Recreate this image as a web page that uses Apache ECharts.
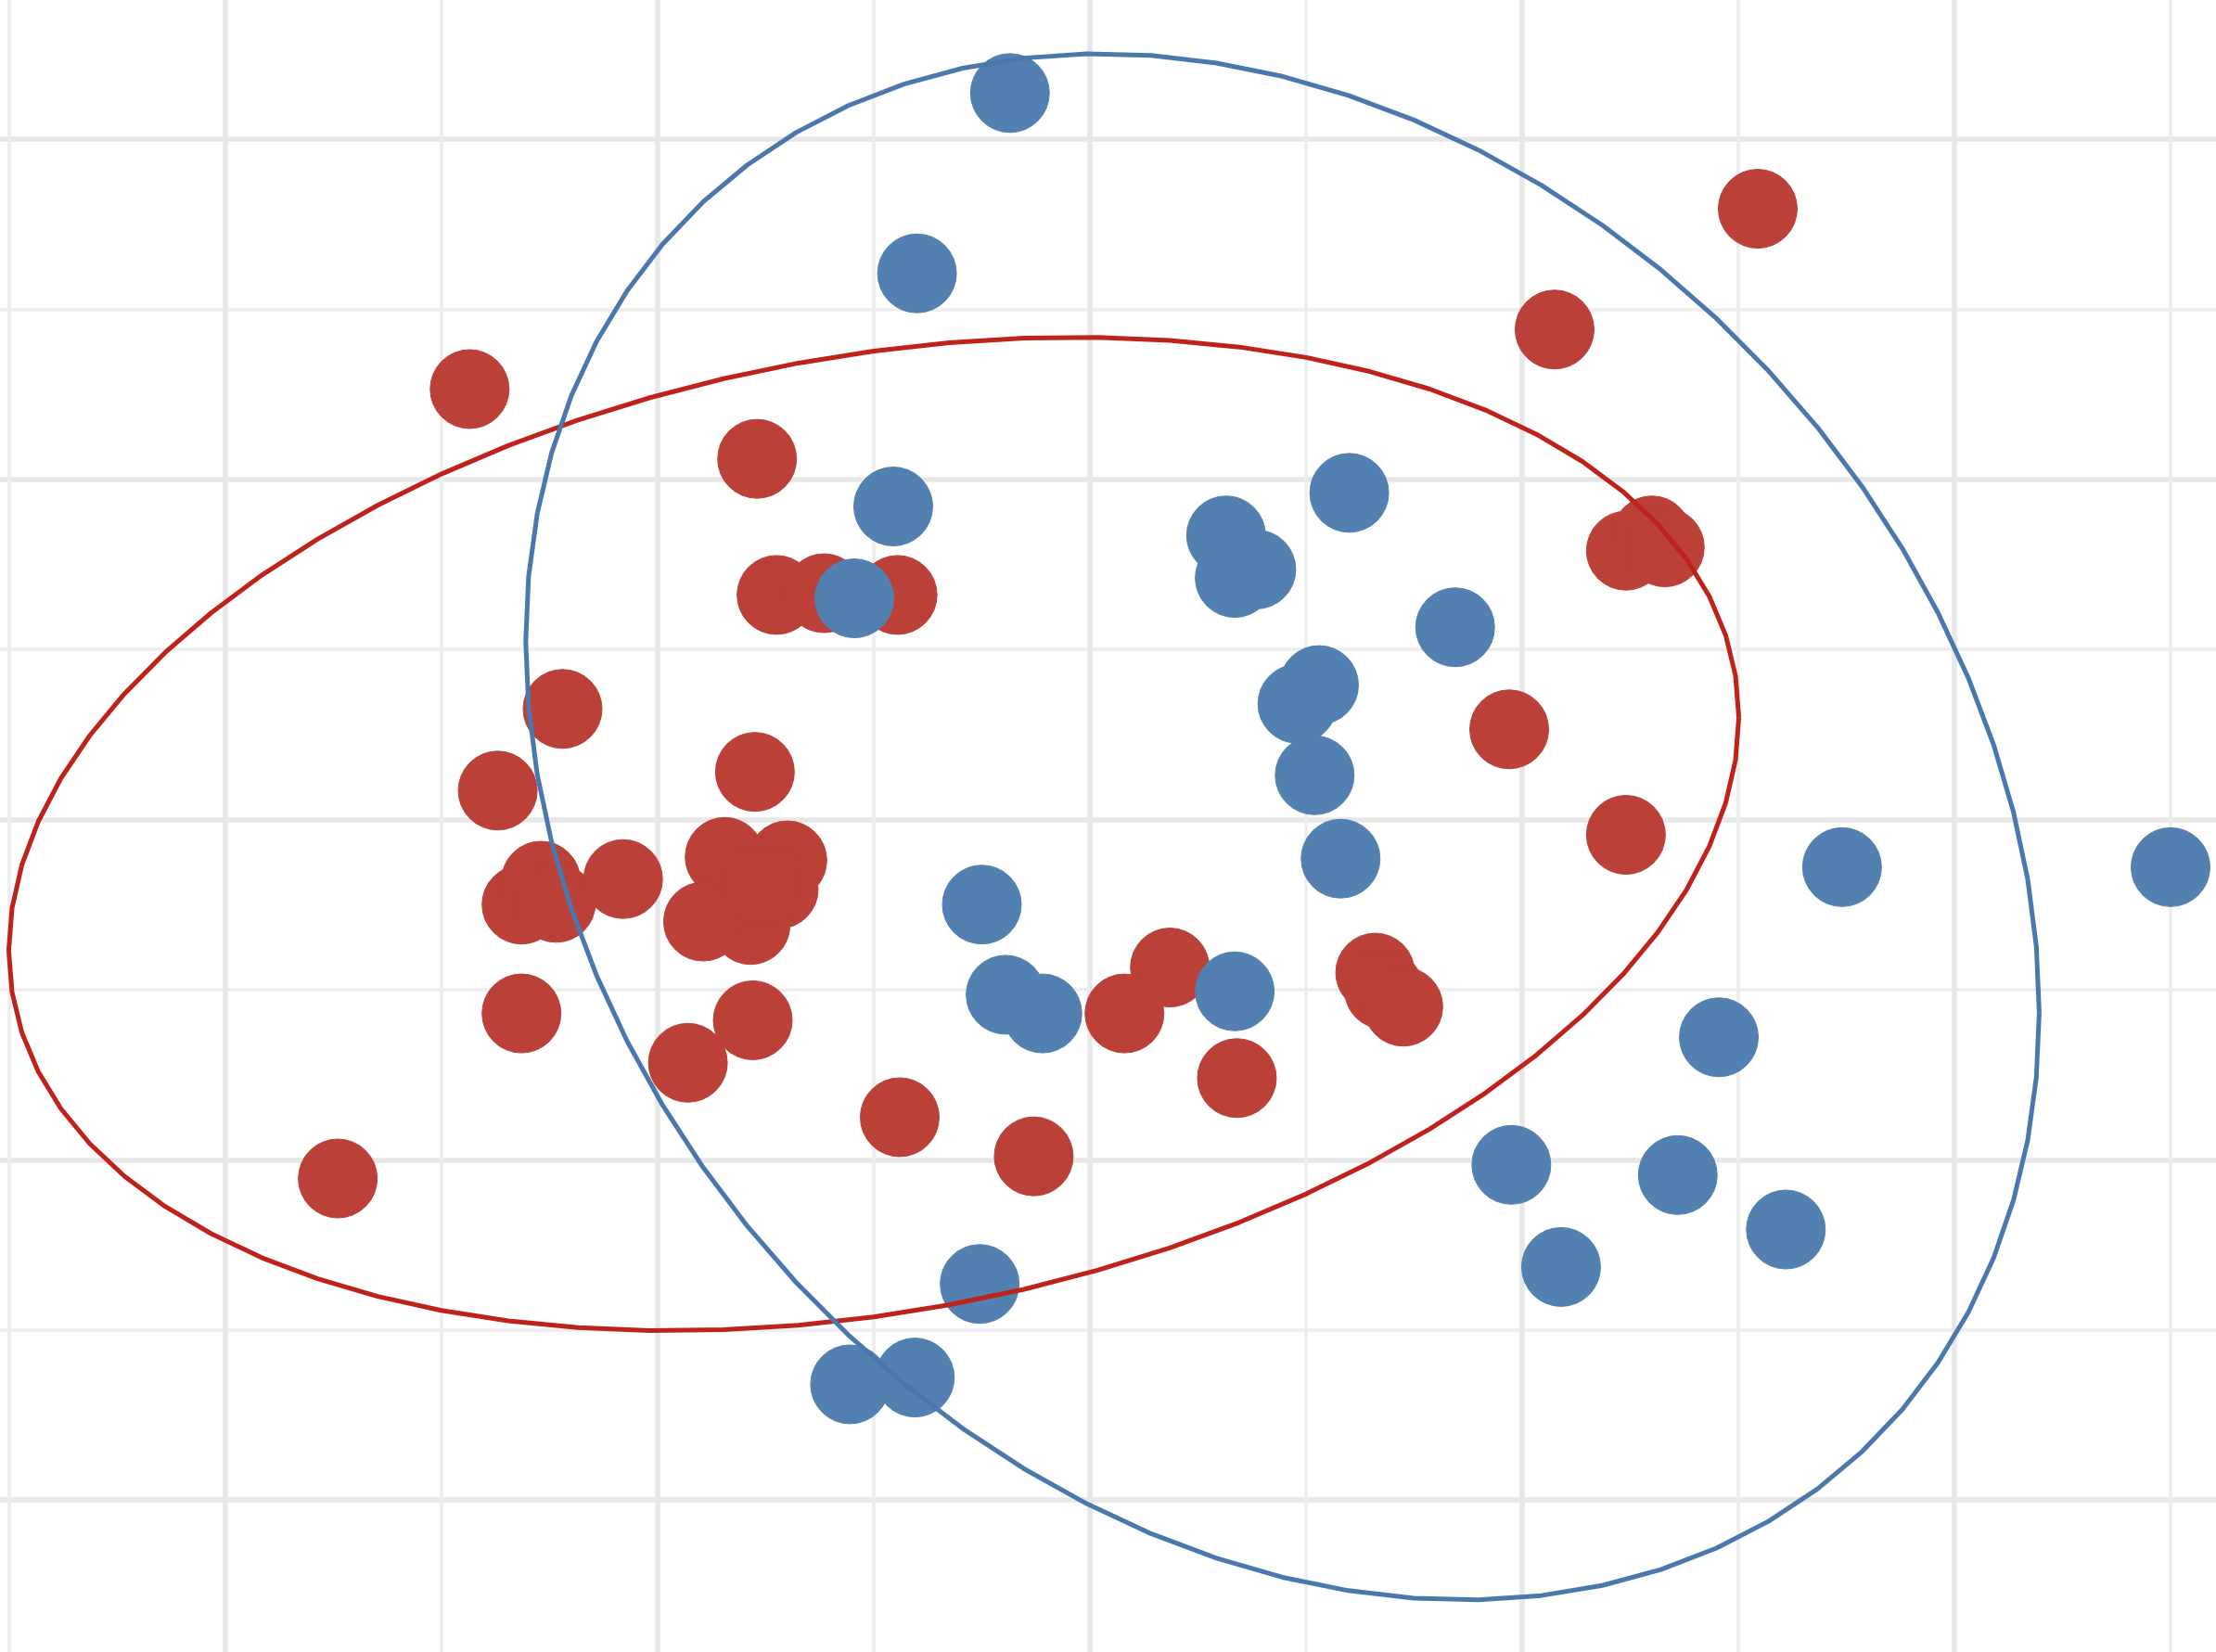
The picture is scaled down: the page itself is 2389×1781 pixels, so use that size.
<!DOCTYPE html>
<html>
<head>
<meta charset="utf-8">
<script src="https://cdn.jsdelivr.net/npm/echarts@6/dist/echarts.min.js"></script>
<style>
html,body{margin:0;padding:0;background:#ffffff;overflow:hidden;width:2389px;height:1781px;}
#chart{position:absolute;left:-223px;top:-217px;width:2796px;height:2201px;}
</style>
</head>
<body>
<div id="chart"></div>
<script>
// ---- data ----
const redX = [7.09, 6.15, 1.13, 2.46, 2.55, 2.77, 3.11, 6.48, 6.60, 6.66, 1.56, 1.26, 2.45, 5.94, 6.48, 1.37, 1.46, 1.53, 1.84, 2.31, 2.60, 2.56, 2.43, 2.21, 2.48, 1.37, 2.44, 2.14, 0.52, 3.12, 3.74, 4.37, 4.16, 4.68, 5.32, 5.36, 5.45];
const redY = [7.59, 6.88, 6.53, 6.12, 5.32, 5.33, 5.32, 5.58, 5.67, 5.60, 4.65, 4.17, 4.28, 4.53, 3.91, 3.50, 3.64, 3.51, 3.65, 3.78, 3.76, 3.59, 3.38, 3.40, 3.61, 2.86, 2.82, 2.57, 1.89, 2.25, 2.02, 3.13, 2.86, 2.48, 3.10, 3.00, 2.90];
const blueX = [3.63, 3.20, 3.09, 2.91, 5.20, 4.63, 4.77, 4.67, 5.69, 5.06, 4.96, 5.04, 5.16, 3.50, 3.61, 3.78, 4.67, 7.48, 9.00, 6.91, 5.95, 6.72, 7.22, 6.18, 3.49, 2.89, 3.19];
const blueY = [8.27, 7.21, 5.84, 5.30, 5.92, 5.67, 5.47, 5.42, 5.13, 4.79, 4.68, 4.26, 3.77, 3.50, 2.97, 2.86, 2.99, 3.72, 3.72, 2.72, 1.97, 1.91, 1.59, 1.37, 1.27, 0.68, 0.72];

// ellipse parameters: center [x, y] and shape [varX, covXY, varY]
const redEllipseCenter = [3.00, 3.915];
const redEllipseShape = [16.02, 2.743, 8.526];
const blueEllipseCenter = [4.891, 3.957];
const blueEllipseShape = [12.26, -3.822, 20.65];

// axis ranges / tick spacing
const xRange = [-2, 10];
const yRange = [-2, 10];
const tickStep = 2;

function zip(xs, ys) { return xs.map((x, i) => [x, ys[i]]); }

function ellipseOutline(center, shape, segments) {
  const sxx = shape[0], sxy = shape[1], syy = shape[2];
  const a = Math.sqrt(sxx), b = sxy / a, c = Math.sqrt(syy - b * b);
  const pts = [];
  for (let i = 0; i <= segments; i++) {
    const t = 2 * Math.PI * i / segments;
    pts.push([center[0] + a * Math.cos(t), center[1] + b * Math.cos(t) + c * Math.sin(t)]);
  }
  return pts;
}

const chart = echarts.init(document.getElementById('chart'), null, {renderer: 'canvas'});

const axisCommon = {
  type: 'value',
  interval: tickStep,
  axisLine: {show: false},
  axisTick: {show: false},
  axisLabel: {show: false},
  splitLine: {show: true, lineStyle: {color: '#e7e7e7', width: 5.5}},
  minorTick: {show: false, splitNumber: 2},
  minorSplitLine: {show: true, lineStyle: {color: '#ededed', width: 3.5}}
};

chart.setOption({
  animation: false,
  backgroundColor: '#ffffff',
  grid: {left: 0, top: 0, right: 0, bottom: 0, containLabel: false},
  xAxis: Object.assign({}, axisCommon, {min: xRange[0], max: xRange[1]}),
  yAxis: Object.assign({}, axisCommon, {min: yRange[0], max: yRange[1]}),
  series: [
    {
      name: 'red', type: 'scatter', symbol: 'circle', symbolSize: 85, z: 2,
      itemStyle: {color: '#ba4038', borderColor: '#ba4038', borderWidth: 1, opacity: 1},
      data: zip(redX, redY)
    },
    {
      name: 'blue', type: 'scatter', symbol: 'circle', symbolSize: 85, z: 2,
      itemStyle: {color: '#5280b0', borderColor: '#5280b0', borderWidth: 1, opacity: 1},
      data: zip(blueX, blueY)
    },
    {
      name: 'red ellipse', type: 'line', showSymbol: false, symbol: 'none', z: 3, silent: true,
      lineStyle: {color: '#be221b', width: 5},
      data: ellipseOutline(redEllipseCenter, redEllipseShape, 72)
    },
    {
      name: 'blue ellipse', type: 'line', showSymbol: false, symbol: 'none', z: 3, silent: true,
      lineStyle: {color: '#4a78ac', width: 5},
      data: ellipseOutline(blueEllipseCenter, blueEllipseShape, 72)
    }
  ]
});
</script>
</body>
</html>
